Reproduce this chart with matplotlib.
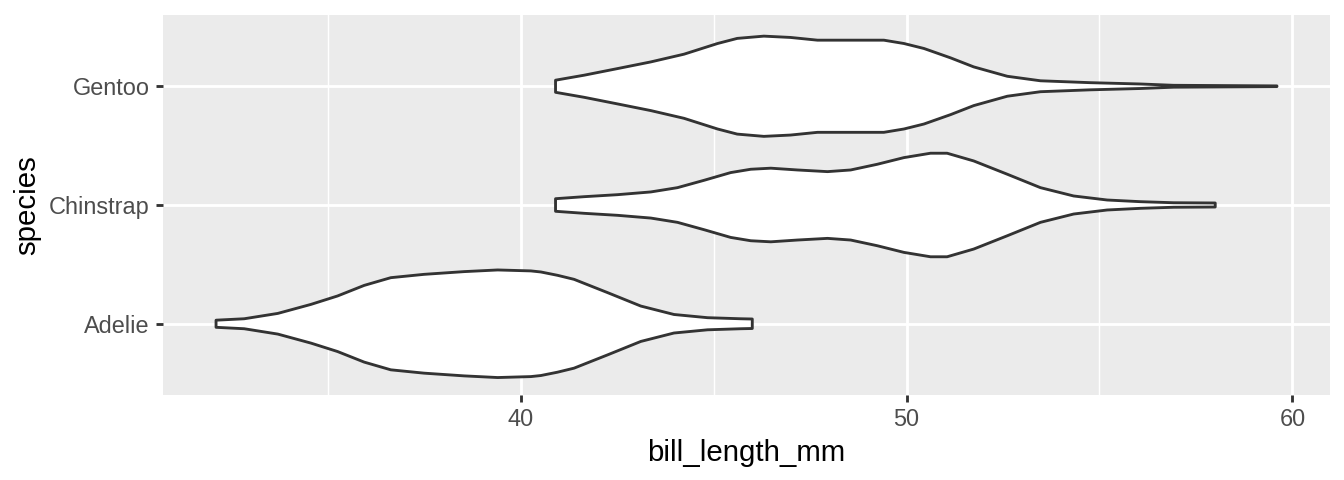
import numpy as np
import matplotlib
matplotlib.use("Agg")
import matplotlib.pyplot as plt
from matplotlib.ticker import MultipleLocator

# violin profiles: bill length and half-width (in category units)
species = ["Adelie", "Chinstrap", "Gentoo"]

adelie_x = [32.1, 32.83, 33.70, 34.56, 35.25, 35.94, 36.63, 37.49, 38.53, 39.40, 40.26, 40.52,
            40.95, 41.38, 42.25, 43.11, 43.97, 44.84, 45.70, 46.0]
adelie_w = [0.030, 0.042, 0.087, 0.163, 0.234, 0.323, 0.388, 0.416, 0.439, 0.453, 0.445, 0.436,
            0.408, 0.374, 0.262, 0.149, 0.078, 0.051, 0.042, 0.040]

chinstrap_x = [40.9, 41.64, 42.51, 43.37, 44.06, 44.75, 45.44, 45.96, 46.48, 47.17, 47.95, 48.55,
               49.24, 49.93, 50.62, 51.05, 51.74, 52.61, 53.47, 54.33, 55.20, 56.06, 56.92, 58.0]
chinstrap_w = [0.053, 0.070, 0.087, 0.110, 0.146, 0.208, 0.273, 0.301, 0.310, 0.295, 0.281, 0.295,
               0.343, 0.399, 0.436, 0.436, 0.371, 0.259, 0.146, 0.076, 0.042, 0.028, 0.019, 0.017]

gentoo_x = [40.9, 41.64, 42.51, 43.37, 44.23, 45.10, 45.61, 46.30, 46.99, 47.69, 48.55, 49.41,
            49.93, 50.45, 51.14, 51.74, 52.61, 53.47, 54.77, 56.06, 56.92, 59.6]
gentoo_w = [0.051, 0.093, 0.149, 0.205, 0.270, 0.360, 0.403, 0.422, 0.411, 0.388, 0.388, 0.388,
            0.360, 0.318, 0.239, 0.163, 0.084, 0.046, 0.030, 0.019, 0.008, 0.003]

profiles = [(adelie_x, adelie_w), (chinstrap_x, chinstrap_w), (gentoo_x, gentoo_w)]

plt.rcParams['font.family'] = ['Liberation Sans', 'DejaVu Sans']

fig = plt.figure(figsize=(7, 2.5), dpi=192)
ax = fig.add_axes([163/1344, 85/480, (1330-163)/1344, (395-15)/480])
ax.set_facecolor('#EBEBEB')

for i, (xs, ws) in enumerate(profiles):
    xs = np.array(xs)
    ws = np.array(ws)
    pos = i + 1
    px = np.concatenate([xs, xs[::-1]])
    py = np.concatenate([pos + ws, (pos - ws)[::-1]])
    ax.fill(px, py, facecolor='white', edgecolor='#333333', linewidth=1.07,
            joinstyle='round', zorder=3)

ax.set_xlim(30.725, 60.975)
ax.set_ylim(0.4, 3.6)
ax.xaxis.set_major_locator(MultipleLocator(10))
ax.xaxis.set_minor_locator(MultipleLocator(5))
ax.set_yticks([1, 2, 3])
ax.set_yticklabels(species)

ax.grid(True, which='major', color='white', linewidth=1.07, zorder=1)
ax.grid(True, which='minor', axis='x', color='white', linewidth=0.53, zorder=1)
ax.set_axisbelow(True)
for s in ax.spines.values():
    s.set_visible(False)

ax.tick_params(axis='both', which='major', length=2.75, width=1.07, color='#333333',
               labelcolor='#4D4D4D', labelsize=8.8, pad=2.2)
ax.tick_params(axis='both', which='minor', length=0)

ax.set_xlabel('bill_length_mm', fontsize=11, color='black', labelpad=2.75)
ax.set_ylabel('species', fontsize=11, color='black', labelpad=2.75)

fig.savefig('out.png', dpi=192)
